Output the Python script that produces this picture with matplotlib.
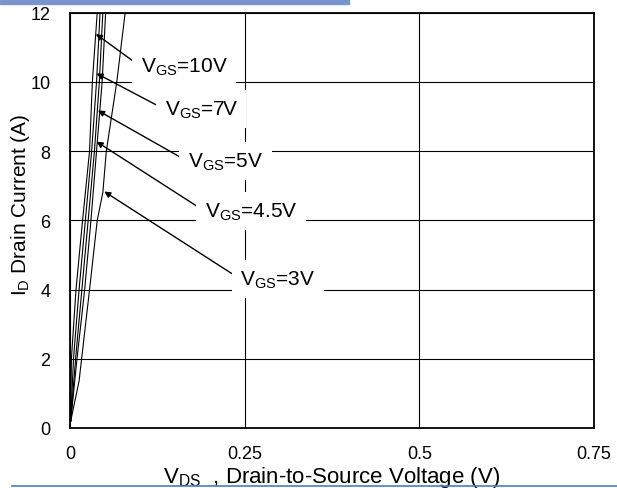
import matplotlib
matplotlib.use("Agg")
import matplotlib.pyplot as plt
from matplotlib.patches import Rectangle
from matplotlib.lines import Line2D

plt.rcParams["font.family"] = ["Liberation Sans", "DejaVu Sans"]
plt.rcParams["mathtext.fontset"] = "custom"
plt.rcParams["mathtext.rm"] = "Liberation Sans"

# Courbes de sortie Id = f(Vds)
courant = [0.2, 2, 4, 6, 8, 10, 12]
vds_10v = [0.001, 0.002, 0.0086, 0.018, 0.028, 0.032, 0.039]
vds_7v = [0.001, 0.005, 0.013, 0.022, 0.031, 0.038, 0.043]
vds_5v = [0.001, 0.008, 0.017, 0.026, 0.035, 0.042, 0.047]
vds_4v5 = [0.001, 0.010, 0.021, 0.030, 0.038, 0.046, 0.051]

courant_3v = [0.2, 1.36, 4, 6, 6.8, 8, 10, 12]
vds_3v = [0.001, 0.013, 0.028, 0.039, 0.047, 0.052, 0.067, 0.079]

# étiquettes : texte, pointe de la flèche (Vds, Id), position du texte (Vds, Id)
etiquettes = ["10V", "7V", "5V", "4.5V", "3V"]
pointes = [(0.037, 11.38), (0.038, 10.24), (0.040, 9.17), (0.038, 8.27), (0.049, 6.83)]
positions = [(0.101, 10.44), (0.1357, 9.20), (0.1686, 7.70), (0.1929, 6.26), (0.2439, 4.30)]

x_ticks = [0, 0.25, 0.5, 0.75]
x_tick_labels = ["0", "0.25", "0.5", "0.75"]
y_ticks = [0, 2, 4, 6, 8, 10, 12]

fig = plt.figure(figsize=(6.17, 4.89), dpi=100)
ax = fig.add_axes([70 / 617, 60 / 489, 524 / 617, 415.5 / 489])

for v, i in [(vds_10v, courant), (vds_7v, courant), (vds_5v, courant),
             (vds_4v5, courant), (vds_3v, courant_3v)]:
    ax.plot(v, i, color="black", linewidth=0.8, zorder=2)

ax.set_xlim(0, 0.75)
ax.set_ylim(0, 12)
ax.set_xticks(x_ticks)
ax.set_xticklabels(x_tick_labels)
ax.set_yticks(y_ticks)
ax.tick_params(axis="both", length=0, labelsize=13)
ax.tick_params(axis="x", pad=12)
ax.tick_params(axis="y", pad=14)
ax.grid(True, color="black", linewidth=0.8, zorder=1)
ax.set_axisbelow(True)
for s in ax.spines.values():
    s.set_linewidth(1.3)

for lab, tip, pos in zip(etiquettes, pointes, positions):
    ax.annotate(r"$\mathregular{V_{GS}}$=" + lab, xy=tip, xytext=pos,
                ha="left", va="center", fontsize=15, zorder=5,
                bbox=dict(boxstyle="square,pad=0.4", fc="white", ec="none"),
                arrowprops=dict(arrowstyle="-|>", color="black", lw=1.0,
                                mutation_scale=9, relpos=(0, 0.5),
                                shrinkA=0, shrinkB=0))

ax.set_xlabel(r"$\mathregular{V_{DS}}$  , Drain-to-Source Voltage (V)", fontsize=16)
ax.xaxis.set_label_coords(0.5, -0.086)
ax.set_ylabel(r"$\mathregular{I_D}$ Drain Current (A)", fontsize=15)
ax.yaxis.set_label_coords(-0.072, 0.54)

# bandeau bleu en haut et trait bleu en bas
fig.patches.append(Rectangle((0, 1 - 4.5 / 489), 349 / 617, 4.5 / 489,
                             transform=fig.transFigure, color="#7895cc"))
fig.lines.append(Line2D([12 / 617, 1], [2.0 / 489, 2.0 / 489],
                        transform=fig.transFigure, color="#4a7ebb", linewidth=1.2))

fig.savefig("out.png", dpi=100)
